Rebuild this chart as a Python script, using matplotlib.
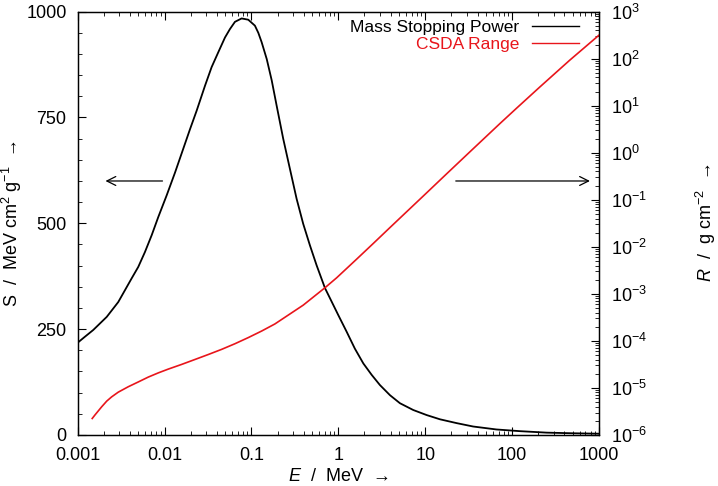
import numpy as np
import matplotlib
matplotlib.use("Agg")
import matplotlib.pyplot as plt
from matplotlib.ticker import MultipleLocator, LogLocator, NullFormatter

plt.rcParams["font.family"] = ["Liberation Sans", "DejaVu Sans"]
plt.rcParams["mathtext.fontset"] = "custom"
plt.rcParams["mathtext.rm"] = "Liberation Sans"
plt.rcParams["mathtext.it"] = "Liberation Sans:italic"

# ── Data ─────────────────────────────────────────────────────
# Mass stopping power S (MeV cm2/g) vs energy E (MeV)
sp_energy = [0.001, 0.00121, 0.00151, 0.00216, 0.00293, 0.0035, 0.00418,
             0.00498, 0.00594, 0.00711, 0.00847, 0.01057, 0.0132, 0.0196,
             0.0234, 0.0292, 0.0348, 0.0415, 0.0496, 0.0566, 0.0646,
             0.0771, 0.0919, 0.1096, 0.120, 0.131, 0.150, 0.171, 0.195,
             0.232, 0.277, 0.331, 0.394, 0.471, 0.562, 0.702, 0.838, 1.0,
             1.246, 1.55, 1.94, 2.42, 3.01, 3.93, 5.12, 7.28, 10.4, 14.8,
             23.0, 35.6, 66.0, 123.0, 250.0, 505.0, 1000.0]
sp_value = [218, 232, 248, 279, 314, 342, 370,
            397, 432, 472, 515, 566, 620, 722,
            766, 825, 869, 904, 939, 959, 976,
            984, 981, 967, 950, 928, 888, 838, 778,
            700, 629, 558, 499, 448, 401, 347, 315, 283,
            244, 204, 169, 142, 118, 94, 75, 59, 47, 37,
            28, 20, 13, 9, 5.5, 4, 3]

# CSDA range R (g/cm2) vs energy E (MeV)
rng_energy = [0.00147, 0.00158, 0.00189, 0.00216, 0.00246, 0.00293, 0.00382,
              0.00498, 0.00649, 0.00847, 0.0110, 0.0157, 0.0224, 0.0318,
              0.0454, 0.0646, 0.0919, 0.131, 0.186, 0.394, 0.702, 0.955,
              1.63, 2.52, 3.93, 6.11, 9.49, 17.6, 32.7, 72.4, 113.0, 209.0,
              462.0, 1000.0]
rng_value = [2.24e-6, 2.66e-6, 3.98e-6, 5.25e-6, 6.46e-6, 8.13e-6, 1.06e-5,
             1.34e-5, 1.70e-5, 2.09e-5, 2.51e-5, 3.16e-5, 4.03e-5, 5.13e-5,
             6.61e-5, 8.71e-5, 1.175e-4, 1.62e-4, 2.29e-4, 5.75e-4, 1.35e-3,
             2.19e-3, 5.5e-3, 1.175e-2, 2.57e-2, 5.56e-2, 1.20e-1, 3.55e-1,
             1.047, 4.17, 8.91, 25.1, 93.3, 316.0]

# ── Figure ───────────────────────────────────────────────────
fig = plt.figure(figsize=(7.18, 4.86), dpi=100)
ax = fig.add_axes([0.1082, 0.105, 0.726, 0.871])
ax2 = ax.twinx()

l1, = ax.plot(sp_energy, sp_value, color="black", lw=1.3,
              label="Mass Stopping Power")
l2, = ax2.plot(rng_energy, rng_value, color="#e8151b", lw=1.2,
               label="CSDA Range")

ax.set_xscale("log")
ax.set_xlim(0.001, 1000)
ax.set_ylim(0, 1000)
ax2.set_yscale("log")
ax2.set_ylim(1e-6, 1e3)

ax.set_xticks([0.001, 0.01, 0.1, 1, 10, 100, 1000])
ax.set_xticklabels(["0.001", "0.01", "0.1", "1", "10", "100", "1000"])
ax.xaxis.set_minor_locator(LogLocator(base=10, subs=np.arange(2, 10), numticks=20))
ax.xaxis.set_minor_formatter(NullFormatter())
ax.set_yticks([0, 250, 500, 750, 1000])
ax.yaxis.set_minor_locator(MultipleLocator(50))

ax2.yaxis.set_major_locator(LogLocator(base=10, numticks=20))
ax2.yaxis.set_minor_locator(LogLocator(base=10, subs=np.arange(2, 10), numticks=20))
ax2.yaxis.set_minor_formatter(NullFormatter())

ax.tick_params(which="both", direction="in", top=True, labelsize=13)
ax.tick_params(axis="x", which="major", pad=9)
ax.tick_params(axis="y", which="major", pad=8)
ax.tick_params(which="major", length=6, width=0.8)
ax.tick_params(which="minor", length=3, width=0.6)
ax.tick_params(axis="y", right=False)
ax2.tick_params(which="both", direction="in", labelsize=13)
ax2.tick_params(which="major", length=6, width=0.8, pad=9)
ax2.tick_params(which="minor", length=3, width=0.6)

for a in (ax, ax2):
    for s in a.spines.values():
        s.set_linewidth(0.9)

ax.set_xlabel(r"$\it{E}$  /  MeV  →", fontsize=13)
ax.set_ylabel(r"S  /  MeV cm$^2$ g$^{-1}$  →", fontsize=13)
ax2.set_ylabel(r"$\it{R}$  /  g cm$^{-2}$  →", fontsize=13)
ax.xaxis.set_label_coords(0.5, -0.078)
ax.yaxis.set_label_coords(-0.103, 0.5)
ax2.yaxis.set_label_coords(1.182, 0.5)

# direction arrows
ax.annotate("", xy=(0.048, 0.6), xytext=(0.168, 0.6), xycoords="axes fraction",
            arrowprops=dict(arrowstyle="->", color="black", lw=0.9,
                            mutation_scale=16))
ax.annotate("", xy=(0.988, 0.6), xytext=(0.72, 0.6), xycoords="axes fraction",
            arrowprops=dict(arrowstyle="->", color="black", lw=0.9,
                            mutation_scale=16))

leg = ax2.legend(handles=[l1, l2], loc="upper right", frameon=False,
                 markerfirst=False, fontsize=12.5, handlelength=2.7,
                 handletextpad=0.75, labelspacing=0.1,
                 bbox_to_anchor=(0.975, 0.996), borderaxespad=0.0)
for txt, ln in zip(leg.get_texts(), [l1, l2]):
    txt.set_color(ln.get_color())
for ln in leg.get_lines():
    ln.set_linewidth(1.0)

fig.savefig("out.png", dpi=100)
